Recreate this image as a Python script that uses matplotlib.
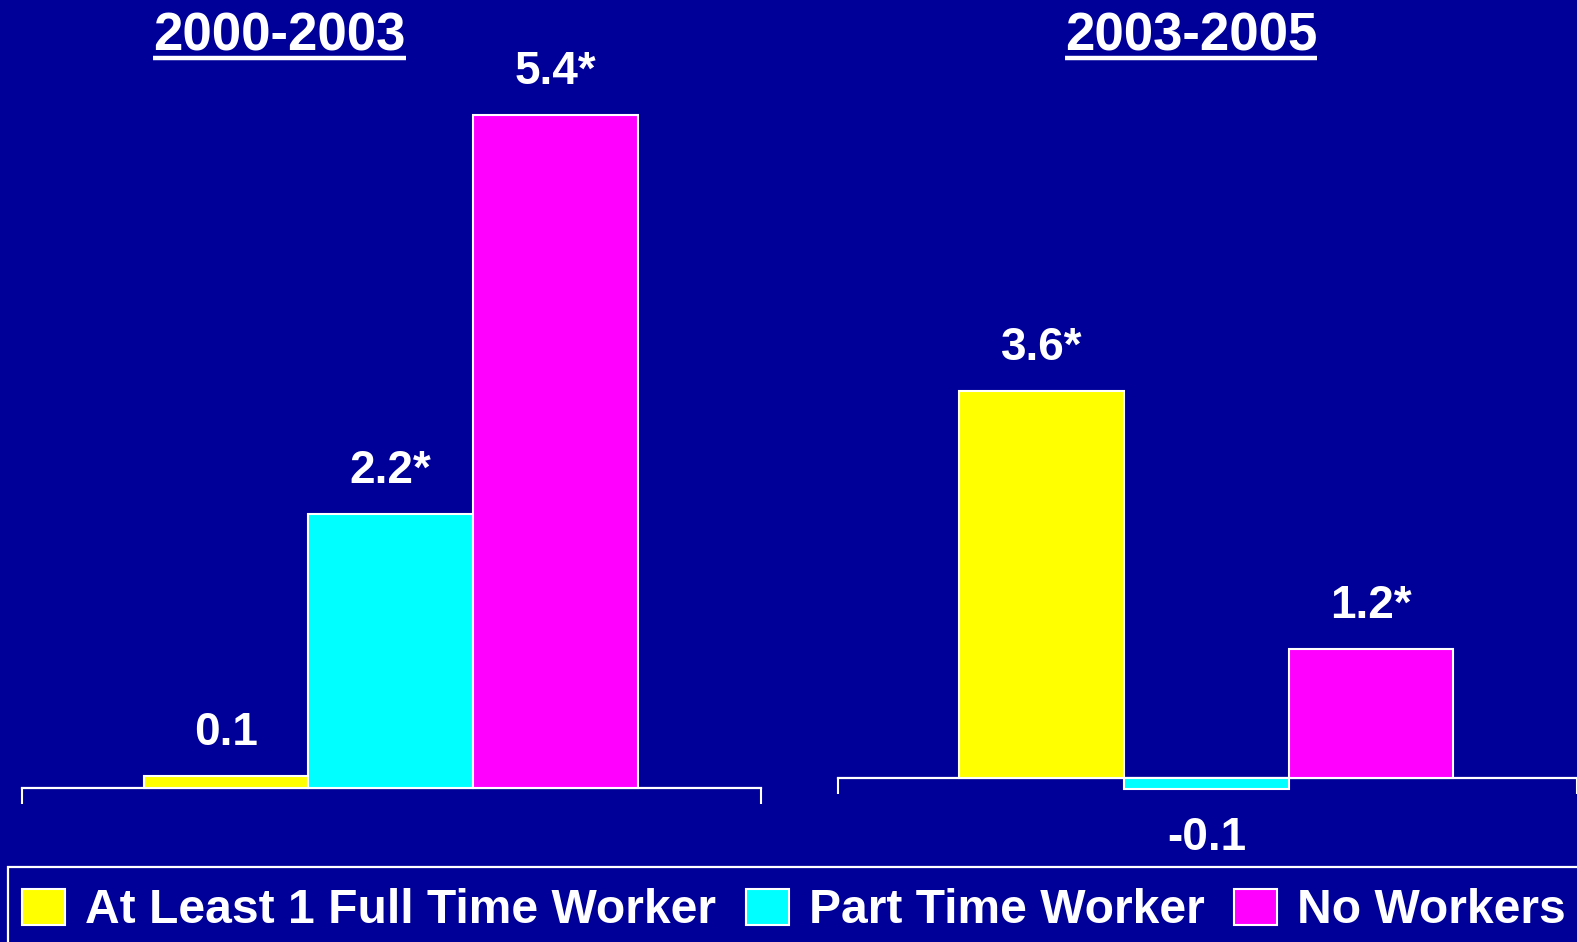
import matplotlib
matplotlib.use("Agg")
import matplotlib.pyplot as plt
from matplotlib.patches import Rectangle
from matplotlib.lines import Line2D

# ---- data ----
categories = ["At Least 1 Full Time Worker", "Part Time Worker", "No Workers"]
period_titles = ["2000-2003", "2003-2005"]
values_2000_2003 = [0.1, 2.2, 5.4]
values_2003_2005 = [3.6, -0.1, 1.2]
labels_2000_2003 = ["0.1", "2.2*", "5.4*"]
labels_2003_2005 = ["3.6*", "-0.1", "1.2*"]
colors = ["#FFFF00", "#00FFFF", "#FF00FF"]

BG = "#000099"
FONT = "Liberation Sans"
W, H = 1568.0, 937.0  # layout reference size

fig = plt.figure(figsize=(15.77, 9.42), dpi=100, facecolor=BG)


def fx(x):
    return x / W


def fy(y):
    return 1 - y / H


def make_axes(x_left, ylim):
    ax = fig.add_axes([fx(x_left), fy(821), 735 / W, (821 - 60) / H])
    ax.set_facecolor(BG)
    ax.patch.set_alpha(0)
    ax.set_ylim(*ylim)
    ax.set_xlim(-1.239, 3.251)
    for s in ["top", "left", "right"]:
        ax.spines[s].set_visible(False)
    ax.spines["bottom"].set_position(("data", 0))
    ax.spines["bottom"].set_color("white")
    ax.spines["bottom"].set_linewidth(1.6)
    ax.spines["bottom"].set_zorder(1)
    ax.set_yticks([])
    ax.set_xticks([-1.239, 3.251])
    ax.set_xticklabels([])
    ax.tick_params(axis="x", direction="out", length=11.5, width=1.5, color="white")
    return ax


def draw_panel(ax, values, labels):
    xs = list(range(len(values)))
    bars = ax.bar(xs, values, width=1.0, color=colors, edgecolor="white",
                  linewidth=1.5, label=None, zorder=2)
    for x, v, lab in zip(xs, values, labels):
        off = 31 if v >= 0 else -35
        ax.annotate(lab, xy=(x, v), xytext=(0, off), textcoords="offset points",
                    ha="center", va="center", color="white", fontsize=33,
                    fontweight="bold", family=FONT, annotation_clip=False)
    return bars


ax1 = make_axes(22, (-0.298, 5.839))
ax2 = make_axes(833, (-0.439, 6.673))
bars1 = draw_panel(ax1, values_2000_2003, labels_2000_2003)
draw_panel(ax2, values_2003_2005, labels_2003_2005)

# titles (underlined)
titles = []
for title, xc in zip(period_titles, [278, 1184.5]):
    t = fig.text(fx(xc), fy(50.5), title, ha="center", va="baseline", color="white",
                 fontsize=38, fontweight="bold", family=FONT)
    titles.append(t)

fig.canvas.draw()
renderer = fig.canvas.get_renderer()
for t in titles:
    bb = t.get_window_extent(renderer).transformed(fig.transFigure.inverted())
    ul_y = fy(57.5)
    fig.add_artist(Line2D([bb.x0, bb.x1], [ul_y, ul_y], transform=fig.transFigure,
                          color="white", linewidth=3.2, solid_capstyle="butt"))

# legend frame
fig.add_artist(Rectangle((fx(8), -0.05), 1.2, fy(862) + 0.05,
                         transform=fig.transFigure, facecolor="none",
                         edgecolor="white", linewidth=1.6))

leg = fig.legend(list(bars1), categories, loc="center left",
                 bbox_to_anchor=(fx(22), fy(906)), bbox_transform=fig.transFigure,
                 ncol=3, frameon=False, borderpad=0, borderaxespad=0,
                 handlelength=0.89, handleheight=0.77, handletextpad=0.42,
                 columnspacing=0.62,
                 prop={"family": FONT, "weight": "bold", "size": 34.6})
for txt in leg.get_texts():
    txt.set_color("white")

fig.savefig("out.png", dpi=100, facecolor=BG)
